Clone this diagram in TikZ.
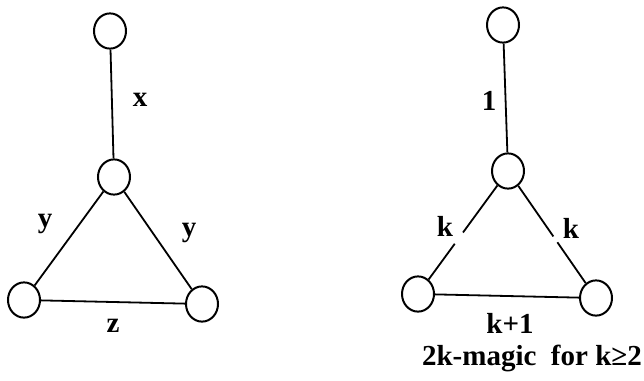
\documentclass[tikz,border=0pt]{standalone}
\usepackage{fontspec}
\setmainfont{Liberation Serif}
\begin{document}
\begin{tikzpicture}[x=1pt,y=-1pt,
  vtx/.style={draw,circle,line width=2pt,minimum width=32pt,minimum height=32pt,inner sep=0pt,yscale=1.1},
  edg/.style={line width=1.8pt},
  lbl/.style={font=\bfseries\fontsize{29}{29}\selectfont,inner sep=0pt}]
\useasboundingbox[fill=white] (0,0) rectangle (644,380);
% left graph
\node[vtx] (a1) at (110,31) {};
\node[vtx] (a2) at (114,177) {};
\node[vtx] (a3) at (24,300) {};
\node[vtx] (a4) at (202,304) {};
\draw[edg] (a1) -- (a2);
\draw[edg] (a2) -- (a3);
\draw[edg] (a2) -- (a4);
\draw[edg] (a3) -- (a4);
\node[lbl] (lx) at (140,100) {x};
\node[lbl] (ly1) at (45,224) {y};
\node[lbl] (ly2) at (189,233) {y};
\node[lbl] (lz) at (113,326) {z};
% right graph
\node[vtx] (b1) at (503,25) {};
\node[vtx] (b2) at (508,171) {};
\node[vtx] (b3) at (418,294) {};
\node[vtx] (b4) at (596,298) {};
\draw[edg] (b1) -- (b2);
\path (b2) -- (b3) coordinate[pos=0.50] (g1) coordinate[pos=0.62] (g2);
\path (b2) -- (b4) coordinate[pos=0.52] (g3) coordinate[pos=0.58] (g4);
\draw[edg] (b2) -- (g1);
\draw[edg] (g2) -- (b3);
\draw[edg] (b2) -- (g3);
\draw[edg] (g4) -- (b4);
\draw[edg] (b3) -- (b4);
\node[lbl] (l1) at (489,101) {1};
\node[lbl] (lk1) at (445,226) {k};
\node[lbl] (lk2) at (571,228) {k};
\node[lbl] (lk3) at (510,323) {k+1};
\node[lbl,anchor=east] (cap) at (642,358) {2k-magic\ \ for k≥2};
\end{tikzpicture}
\end{document}
